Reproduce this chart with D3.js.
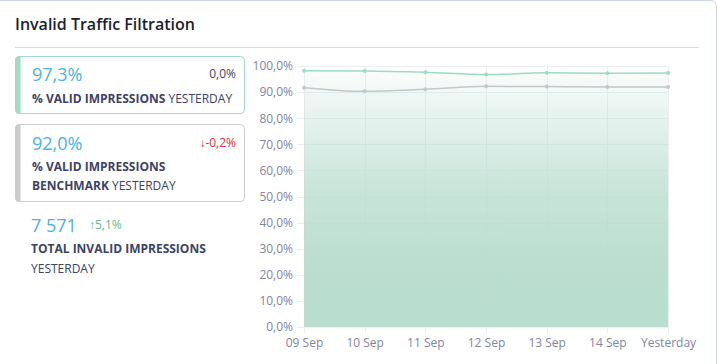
<!DOCTYPE html>
<html>
<head>
<meta charset="utf-8">
<script src="https://cdn.jsdelivr.net/npm/d3@7"></script>
<style>
    body { margin: 0; background: #fff; }
    svg text { font-family: "Open Sans", sans-serif; }
</style>
</head>
<body>
<div id="my_dataviz"></div>
<script>
// data
var days = ["09 Sep", "10 Sep", "11 Sep", "12 Sep", "13 Sep", "14 Sep", "Yesterday"];
var validPct = [98.2, 98.1, 97.6, 96.7, 97.4, 97.2, 97.3];
var benchmarkPct = [91.7, 90.3, 91.1, 92.2, 92.1, 92.0, 92.0];
var yTicks = [0, 10, 20, 30, 40, 50, 60, 70, 80, 90, 100];

var W = 717, H = 364;
var plot = { left: 304, right: 668, top: 66, bottom: 327 };

var loc = d3.formatLocale({ decimal: ",", thousands: " ", grouping: [3], currency: ["", ""] });
var fmt1 = loc.format(".1f");

var svg = d3.select("#my_dataviz")
    .append("svg")
    .attr("width", W)
    .attr("height", H);

// card outline
svg.append("path")
    .attr("d", "M-5,0.5 H710 Q716.5,0.5 716.5,7 V" + (H + 5))
    .attr("fill", "none")
    .attr("stroke", "#cfd3e6")
    .attr("stroke-width", 1);

svg.append("text")
    .attr("x", 15).attr("y", 30)
    .attr("font-size", 16).attr("font-weight", 600)
    .attr("fill", "#1d1f2b")
    .text("Invalid Traffic Filtration");

svg.append("line")
    .attr("x1", 15).attr("x2", 699)
    .attr("y1", 47.5).attr("y2", 47.5)
    .attr("stroke", "#dcdcdc");

// KPI boxes
function kpiBox(y, h, accent, border) {
    var g = svg.append("g");
    g.append("rect")
        .attr("x", 15.5).attr("y", y + 0.5)
        .attr("width", 229).attr("height", h)
        .attr("rx", 4)
        .attr("fill", "#fff")
        .attr("stroke", border);
    g.append("path")
        .attr("d", "M20," + (y + 0.5) + " H19 Q15.5," + (y + 0.5) + " 15.5," + (y + 4) +
            " V" + (y + h - 3.5) + " Q15.5," + (y + h + 0.5) + " 19," + (y + h + 0.5) + " H20 Z")
        .attr("fill", accent).attr("stroke", accent);
    return g;
}

var b1 = kpiBox(56, 57, "#a2dcc4", "#a2dcc4");
b1.append("text").attr("x", 32).attr("y", 81).attr("font-size", 18).attr("fill", "#4ab3e6").text("97,3%");
b1.append("text").attr("x", 236).attr("y", 78).attr("font-size", 12).attr("text-anchor", "end").attr("fill", "#3f4560").text("0,0%");
var t1 = b1.append("text").attr("x", 32).attr("y", 103).attr("font-size", 12).attr("fill", "#3b4466");
t1.append("tspan").attr("font-weight", 700).text("% VALID IMPRESSIONS");
t1.append("tspan").text(" YESTERDAY");

var b2 = kpiBox(124, 77, "#cccccc", "#cccccc");
b2.append("text").attr("x", 32).attr("y", 150).attr("font-size", 18).attr("fill", "#4ab3e6").text("92,0%");
b2.append("text").attr("x", 236).attr("y", 147).attr("font-size", 12).attr("text-anchor", "end").attr("fill", "#e0303f").text("\u2193-0,2%");
b2.append("text").attr("x", 32).attr("y", 171).attr("font-size", 12).attr("font-weight", 700).attr("fill", "#3b4466").text("% VALID IMPRESSIONS");
var t2 = b2.append("text").attr("x", 32).attr("y", 190).attr("font-size", 12).attr("fill", "#3b4466");
t2.append("tspan").attr("font-weight", 700).text("BENCHMARK");
t2.append("tspan").text(" YESTERDAY");

svg.append("text").attr("x", 31).attr("y", 232).attr("font-size", 18).attr("fill", "#4ab3e6").text("7 571");
svg.append("text").attr("x", 89).attr("y", 229).attr("font-size", 12).attr("fill", "#5cc08e").text("\u21915,1%");
svg.append("text").attr("x", 31).attr("y", 253).attr("font-size", 12).attr("font-weight", 700).attr("fill", "#3b4466").text("TOTAL INVALID IMPRESSIONS");
svg.append("text").attr("x", 31).attr("y", 273).attr("font-size", 12).attr("fill", "#3b4466").text("YESTERDAY");

// scales
var x = d3.scalePoint()
    .domain(days)
    .range([plot.left, plot.right]);

var y = d3.scaleLinear()
    .domain([0, 100])
    .range([plot.bottom, plot.top]);

// gradient for the area
var grad = svg.append("defs").append("linearGradient")
    .attr("id", "areaGrad")
    .attr("gradientUnits", "userSpaceOnUse")
    .attr("x1", 0).attr("x2", 0)
    .attr("y1", y(100)).attr("y2", y(0));
grad.append("stop").attr("offset", "0%").attr("stop-color", "#b9ddcf").attr("stop-opacity", 0.05);
grad.append("stop").attr("offset", "45%").attr("stop-color", "#b9ddcf").attr("stop-opacity", 0.75);
grad.append("stop").attr("offset", "75%").attr("stop-color", "#b9ddcf").attr("stop-opacity", 0.97);
grad.append("stop").attr("offset", "100%").attr("stop-color", "#b9ddcf").attr("stop-opacity", 1);

// grid
svg.append("g")
    .selectAll("line")
    .data(yTicks)
    .join("line")
    .attr("x1", plot.left - 7).attr("x2", plot.right)
    .attr("y1", d => Math.round(y(d)) + 0.5).attr("y2", d => Math.round(y(d)) + 0.5)
    .attr("stroke", "#eceef4");

svg.append("g")
    .selectAll("line")
    .data(days)
    .join("line")
    .attr("x1", d => Math.round(x(d)) + 0.5).attr("x2", d => Math.round(x(d)) + 0.5)
    .attr("y1", plot.top).attr("y2", plot.bottom + 6)
    .attr("stroke", "#eceef4");

var rows = days.map((d, i) => ({ day: d, v: validPct[i], b: benchmarkPct[i] }));

svg.append("path")
    .datum(rows)
    .attr("fill", "url(#areaGrad)")
    .attr("d", d3.area()
        .x(d => x(d.day))
        .y0(y(0))
        .y1(d => y(d.v))
        .curve(d3.curveMonotoneX));

function drawLine(key, color) {
    svg.append("path")
        .datum(rows)
        .attr("fill", "none")
        .attr("stroke", color)
        .attr("stroke-width", 1.5)
        .attr("d", d3.line()
            .x(d => x(d.day))
            .y(d => y(d[key]))
            .curve(d3.curveMonotoneX));
    svg.append("g")
        .selectAll("circle")
        .data(rows)
        .join("circle")
        .attr("cx", d => x(d.day))
        .attr("cy", d => y(d[key]))
        .attr("r", 2)
        .attr("fill", color);
}

drawLine("b", "#c4c8c8");
drawLine("v", "#9edbc2");

// axis labels
var yAxis = svg.append("g")
    .attr("transform", "translate(" + plot.left + ",0)")
    .call(d3.axisLeft(y).tickValues(yTicks).tickSize(0).tickPadding(11)
        .tickFormat(d => fmt1(d) + "%"));
yAxis.select(".domain").remove();
yAxis.selectAll(".tick text")
    .attr("font-family", "'Liberation Sans', Arial, sans-serif")
    .attr("font-size", 12)
    .attr("fill", "#7f86a0");

var xAxis = svg.append("g")
    .attr("transform", "translate(0," + plot.bottom + ")")
    .call(d3.axisBottom(x).tickSize(0).tickPadding(11));
xAxis.select(".domain").remove();
xAxis.selectAll(".tick text")
    .attr("font-family", "'Liberation Sans', Arial, sans-serif")
    .attr("font-size", 12)
    .attr("fill", "#7f86a0");
</script>
</body>
</html>
